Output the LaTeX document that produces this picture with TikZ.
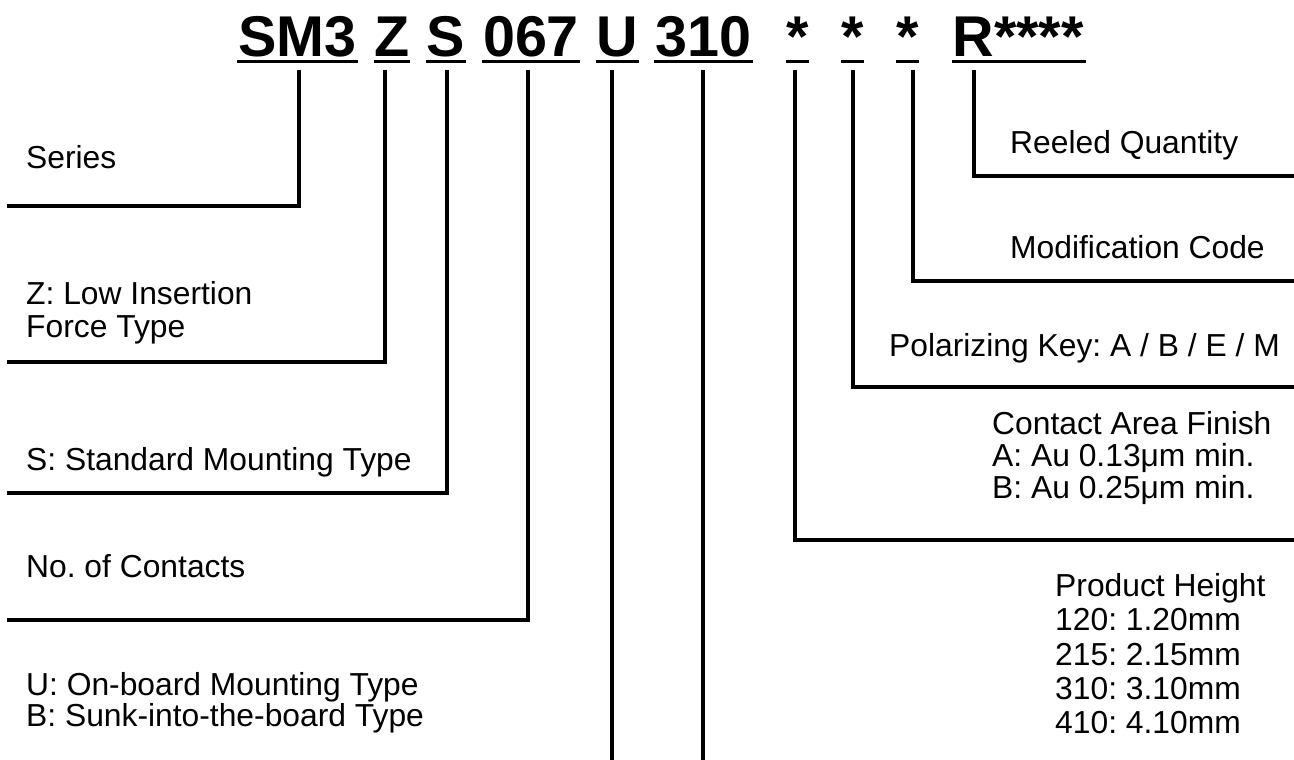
\documentclass[tikz,border=0pt]{standalone}
\usepackage{fontspec}
\setmainfont{Liberation Sans}
\frenchspacing
\begin{document}
\frenchspacing
\begin{tikzpicture}[x=1pt,y=-1pt]
\tikzset{
  lbl/.style={anchor=base west, inner sep=0pt, font=\fontsize{31.8}{33}\selectfont},
  code/.style={anchor=base, inner sep=0pt, font=\bfseries\fontsize{57.5}{60}\selectfont},
  uline/.style={line width=3pt},
  lead/.style={line width=4.5pt, line join=miter},
}
\useasboundingbox (0,0) rectangle (1294,760);
% part number
\node[code] (cSM3) at (297.5,57) {SM3};
\node[code] (cZ) at (392,57) {Z};
\node[code] (cS) at (446,57) {S};
\node[code] (c067) at (531,57) {067};
\node[code] (cU) at (617.5,57) {U};
\node[code] (c310) at (703.5,57) {310};
\node[code] (cA1) at (797.5,57) {*};
\node[code] (cA2) at (852.5,57) {*};
\node[code] (cA3) at (907.5,57) {*};
\node[code] (cR) at (1018,57) {R****};
% underlines
\draw[uline] (237,62) -- (358,62);
\draw[uline] (374,62) -- (410,62);
\draw[uline] (426,62) -- (466,62);
\draw[uline] (482,62) -- (580,62);
\draw[uline] (596,62) -- (639,62);
\draw[uline] (654,62) -- (753,62);
\draw[uline] (786,62) -- (809,62);
\draw[uline] (841,62) -- (864,62);
\draw[uline] (896,62) -- (919,62);
\draw[uline] (952,62) -- (1086,62);
% lead start points
\coordinate (sSM3) at (299,70);
\coordinate (sZ) at (385,70);
\coordinate (sS) at (447,70);
\coordinate (s067) at (528,70);
\coordinate (sU) at (612,70);
\coordinate (s310) at (703,70);
\coordinate (sA1) at (795,70);
\coordinate (sA2) at (853,70);
\coordinate (sA3) at (913,70);
\coordinate (sR) at (974,70);
% lead end points
\coordinate (eSM3) at (7,206);
\coordinate (eZ) at (7,362);
\coordinate (eS) at (7,493);
\coordinate (e067) at (7,620);
\coordinate (eU) at (612,760);
\coordinate (e310) at (703,760);
\coordinate (eA1) at (1294,540);
\coordinate (eA2) at (1294,387);
\coordinate (eA3) at (1294,281);
\coordinate (eR) at (1294,176);
% leads
\draw[lead] (sSM3) |- (eSM3);
\draw[lead] (sZ) |- (eZ);
\draw[lead] (sS) |- (eS);
\draw[lead] (s067) |- (e067);
\draw[lead] (sU) -- (eU);
\draw[lead] (s310) -- (e310);
\draw[lead] (sA1) |- (eA1);
\draw[lead] (sA2) |- (eA2);
\draw[lead] (sA3) |- (eA3);
\draw[lead] (sR) |- (eR);
% labels left
\node[lbl] (lSeries) at (26,168) {Series};
\node[lbl] (lZ1) at (26,304) {Z: Low Insertion};
\node[lbl] (lZ2) at (26,337) {Force Type};
\node[lbl] (lS) at (26,470) {S: Standard Mounting Type};
\node[lbl] (lN) at (26,577) {No. of Contacts};
\node[lbl] (lU1) at (26,695) {U: On-board Mounting Type};
\node[lbl] (lU2) at (26,726) {B: Sunk-into-the-board Type};
% labels right
\node[lbl] (lR) at (1010,153) {Reeled Quantity};
\node[lbl] (lM) at (1010,258) {Modification Code};
\node[lbl] (lP) at (889,356) {Polarizing Key: A / B / E / M};
\node[lbl] (lC1) at (992,434) {Contact Area Finish};
\node[lbl] (lC2) at (992,466) {A: Au 0.13μm min.};
\node[lbl] (lC3) at (992,498) {B: Au 0.25μm min.};
\node[lbl] (lH1) at (1055,596) {Product Height};
\node[lbl] (lH2) at (1055,630) {120: 1.20mm};
\node[lbl] (lH3) at (1055,665) {215: 2.15mm};
\node[lbl] (lH4) at (1055,699) {310: 3.10mm};
\node[lbl] (lH5) at (1055,733) {410: 4.10mm};
\end{tikzpicture}
\end{document}
